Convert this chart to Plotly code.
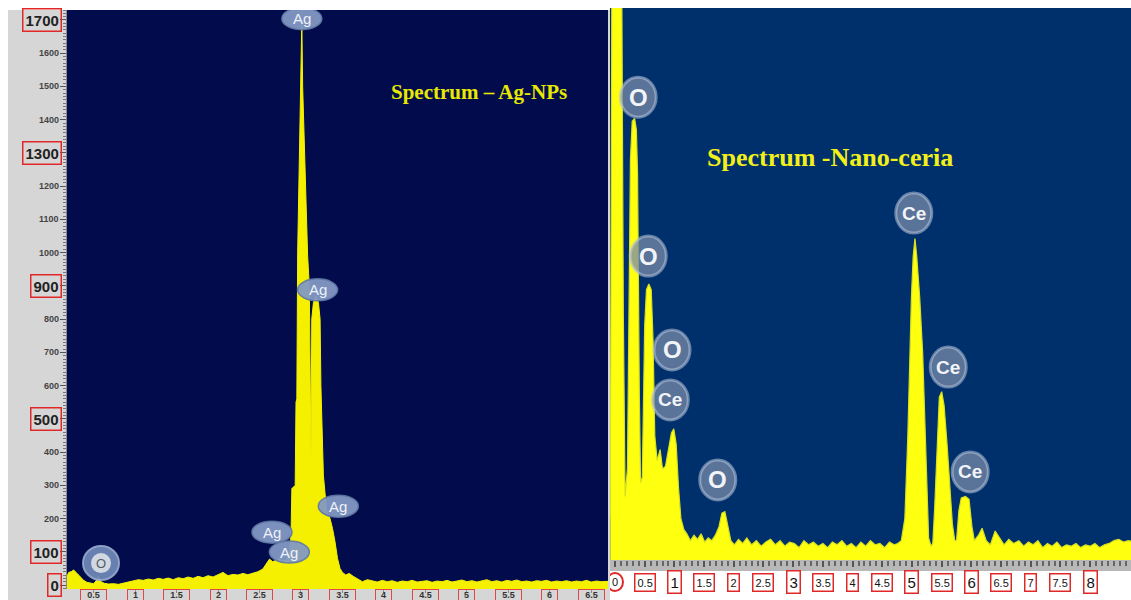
import plotly.graph_objects as go

W, H = 1131, 600

# ---------------- Ag-NPs spectrum (energy in keV, counts) ----------------
ag_energy = [0.17, 0.20, 0.23, 0.26, 0.29, 0.32, 0.35, 0.38, 0.42, 0.46, 0.50, 0.53, 0.56, 0.59,
             0.63, 0.68, 0.74, 0.80, 0.86, 0.92, 0.98, 1.04, 1.10, 1.16, 1.22, 1.28, 1.34, 1.40,
             1.46, 1.52, 1.58, 1.64, 1.70, 1.76, 1.82, 1.88, 1.94, 2.00, 2.06, 2.12, 2.18, 2.24,
             2.30, 2.36, 2.42, 2.48, 2.54, 2.58, 2.62, 2.66, 2.70, 2.74, 2.78, 2.82, 2.86, 2.88,
             2.89, 2.93, 2.94, 2.95, 2.96, 2.98, 2.99, 3.01, 3.02, 3.04, 3.06, 3.08, 3.10, 3.12,
             3.13, 3.15, 3.18, 3.21, 3.23, 3.24, 3.27, 3.31, 3.35, 3.38, 3.41, 3.44, 3.47, 3.50,
             3.54, 3.58, 3.63, 3.68, 3.74, 3.80,
             3.86, 3.92, 3.98, 4.04, 4.10, 4.16, 4.22, 4.28, 4.34, 4.40, 4.46, 4.52, 4.58, 4.64,
             4.70, 4.76, 4.82, 4.88, 4.94, 5.00, 5.06, 5.12, 5.18, 5.24, 5.30, 5.36, 5.42, 5.48,
             5.54, 5.60, 5.66, 5.72, 5.78, 5.84, 5.90, 5.96, 6.02, 6.08, 6.14, 6.20, 6.26, 6.32,
             6.38, 6.44, 6.50, 6.56, 6.62, 6.70]
ag_counts = [20, 38, 40, 45, 38, 30, 24, 14, 8, 5, 4, 12, 26, 10,
             5, 3, 4, 2, 5, 8, 12, 16, 14, 18, 15, 20, 17, 21,
             16, 22, 19, 24, 20, 26, 22, 28, 24, 30, 38, 28, 32, 30,
             35, 31, 36, 40, 48, 62, 78, 70, 74, 80, 72, 76, 95, 150,
             290, 300, 550, 560, 1000, 1250, 1480, 1700, 1500, 1300, 1100, 990, 900, 380,
             800, 850, 870, 850, 800, 600, 330, 220, 200, 170, 130, 80, 50, 38,
             30, 35, 26, 18, 10, 16,
             12, 9, 14, 10, 13, 8, 12, 10, 14, 9, 11, 13, 8, 12,
             10, 14, 9, 12, 15, 10, 13, 9, 12, 16, 10, 13, 9, 14,
             11, 15, 10, 12, 9, 13, 11, 14, 9, 12, 10, 13, 9, 12,
             10, 14, 9, 12, 10, 11]

ag_ytick_values = list(range(0, 1800, 100))
ag_ytick_boxed = [0, 100, 500, 900, 1300, 1700]
ag_xtick_values = [0.5, 1, 1.5, 2, 2.5, 3, 3.5, 4, 4.5, 5, 5.5, 6, 6.5]
ag_xtick_labels = ["0.5", "1", "1.5", "2", "2.5", "3", "3.5", "4", "4.5", "5", "5.5", "6", "6.5"]

ag_peak_names = ["Ag", "Ag", "Ag", "Ag", "Ag", "O"]
ag_peak_energy = [3.01, 3.20, 3.45, 2.65, 2.86, 0.59]
ag_peak_counts = [1704, 888, 237, 159, 99, 66]

# ---------------- Nano-ceria spectrum (energy in keV, counts) ----------------
ce_energy = [-0.08, -0.05, 0.11, 0.14, 0.17, 0.21, 0.24, 0.26, 0.29, 0.33, 0.36, 0.38, 0.41,
             0.43, 0.46, 0.50, 0.53, 0.57, 0.61, 0.64, 0.67, 0.71, 0.76, 0.80, 0.85, 0.90,
             0.95, 0.99, 1.03, 1.07,
             1.11, 1.16, 1.21, 1.27, 1.33, 1.39, 1.45, 1.51, 1.57, 1.63, 1.69, 1.75, 1.80,
             1.85, 1.90, 1.95, 2.01, 2.08, 2.15, 2.22, 2.30, 2.38, 2.46, 2.54, 2.62, 2.70,
             2.78, 2.86, 2.94, 3.02, 3.10, 3.18, 3.26, 3.34, 3.42, 3.50, 3.58, 3.66, 3.74,
             3.82, 3.90, 3.98, 4.06, 4.14, 4.22, 4.30, 4.38, 4.46, 4.54, 4.62, 4.70, 4.76,
             4.82, 4.88, 4.93, 4.96, 4.99, 5.02, 5.05, 5.08, 5.13, 5.18, 5.22, 5.25, 5.28,
             5.32, 5.35, 5.38, 5.42, 5.46, 5.50, 5.54, 5.59, 5.64, 5.68, 5.72, 5.75, 5.79,
             5.83, 5.90, 5.96, 6.01, 6.05, 6.12, 6.18, 6.25, 6.32, 6.40,
             6.47, 6.55, 6.63, 6.71, 6.80, 6.88, 6.96, 7.04, 7.12, 7.20, 7.28, 7.36, 7.44,
             7.52, 7.60, 7.68, 7.76, 7.84, 7.92, 8.00, 8.08, 8.16, 8.24, 8.32, 8.40, 8.48,
             8.56, 8.64, 8.70]
ce_counts = [150, 2300, 2300, 900, 230, 330, 1000, 1450, 1590, 1600, 1560, 1400, 600,
             280, 300, 850, 980, 1000, 980, 800, 450, 360, 400, 330, 340, 400,
             460, 475, 420, 260,
             150, 110, 95, 70, 90, 75, 95, 65, 80, 70, 90, 120, 170,
             175, 120, 70, 55, 75, 60, 80, 55, 70, 50, 65, 75, 55,
             70, 50, 65, 60, 45, 70, 55, 65, 50, 60, 45, 65, 55,
             70, 50, 60, 45, 65, 50, 70, 55, 60, 45, 65, 55, 60,
             70, 150, 450, 750, 950, 1100, 1165, 1100, 950, 750, 500, 250, 80,
             50, 60, 180, 420, 590, 610, 560, 420, 250, 130, 70, 70, 180,
             225, 230, 220, 120, 70, 90, 115, 70, 55, 105,
             80, 55, 75, 60, 70, 50, 65, 55, 70, 45, 60, 50, 65,
             45, 55, 50, 60, 45, 55, 50, 60, 45, 55, 60, 70, 75,
             65, 70, 68]

ce_xtick_values = [0, 0.5, 1, 1.5, 2, 2.5, 3, 3.5, 4, 4.5, 5, 5.5, 6, 6.5, 7, 7.5, 8]
ce_xtick_labels = ["0", "0.5", "1", "1.5", "2", "2.5", "3", "3.5", "4", "4.5", "5", "5.5",
                   "6", "6.5", "7", "7.5", "8"]

ce_peak_names = ["O", "O", "O", "Ce", "O", "Ce", "Ce", "Ce"]
ce_peak_energy = [0.39, 0.56, 0.96, 0.93, 1.73, 5.03, 5.61, 5.98]
ce_peak_counts = [1677, 1101, 761, 580, 290, 1257, 699, 319]

YELLOW = "#f4f000"
SANS = "Liberation Sans"
SERIF = "Liberation Serif"


def px(p):
    return p / W


def py(p):
    return 1 - p / H


fig = go.Figure()

# Ag-NPs: baseline just under zero so the fill reaches the frame bottom
fig.add_trace(go.Scatter(x=[ag_energy[0], ag_energy[-1]], y=[-12, -12], mode="lines",
                         line=dict(width=0, color=YELLOW), xaxis="x", yaxis="y",
                         showlegend=False, hoverinfo="skip"))
fig.add_trace(go.Scatter(x=ag_energy, y=ag_counts, mode="lines", fill="tonexty",
                         fillcolor=YELLOW, line=dict(color=YELLOW, width=1),
                         xaxis="x", yaxis="y", showlegend=False))

# Nano-ceria
fig.add_trace(go.Scatter(x=ce_energy, y=ce_counts, mode="lines", fill="tozeroy",
                         fillcolor="#ffff10", line=dict(color="#d8e020", width=1.2),
                         xaxis="x2", yaxis="y2", showlegend=False))

shapes = [
    # grey frame of the left instrument panel
    dict(type="rect", xref="paper", yref="paper", x0=px(8), x1=px(610), y0=0, y1=py(10),
         fillcolor="#d6d6d6", line=dict(width=0), layer="below"),
    dict(type="rect", xref="x domain", yref="y domain", x0=0, x1=1, y0=0, y1=1,
         fillcolor="#020c4c", line=dict(width=0), layer="below"),
    dict(type="rect", xref="x2 domain", yref="y2 domain", x0=0, x1=1, y0=0, y1=1,
         fillcolor="#00306c", line=dict(width=0), layer="below"),
    # tick strip under the right spectrum
    dict(type="rect", xref="paper", yref="paper", x0=px(610), x1=1, y0=py(571), y1=py(560),
         fillcolor="#b8b8b8", line=dict(width=0), layer="below"),
]

annotations = []

# left y-axis labels
for v in ag_ytick_values:
    if v in ag_ytick_boxed:
        annotations.append(dict(xref="paper", yref="y", x=px(62), y=v, xanchor="right",
                                yanchor="middle", text=f"<b>{v}</b>", showarrow=False,
                                font=dict(family=SANS, size=15, color="#222222"),
                                bordercolor="#e02828", borderwidth=1.5, borderpad=2))
    else:
        annotations.append(dict(xref="paper", yref="y", x=px(61), y=v, xanchor="right",
                                yanchor="middle", text=f"<b>{v}</b>", showarrow=False,
                                font=dict(family=SANS, size=9, color="#444444")))

# left x-axis labels
for v, t in zip(ag_xtick_values, ag_xtick_labels):
    annotations.append(dict(xref="x", yref="paper", x=v, y=py(589), xanchor="center",
                            yanchor="top", text=f"<b>{t}</b>", showarrow=False,
                            font=dict(family=SANS, size=9, color="#333333"),
                            bordercolor="#e04848", borderwidth=1, borderpad=0,
                            width=len(t) * 5 + 10))

# right x-axis labels
for v, t in zip(ce_xtick_values, ce_xtick_labels):
    big = t in ("1", "3", "5", "6", "8")
    box = dict(bordercolor="#e02828", borderwidth=1.5, borderpad=2,
               bgcolor="white") if t != "0" else {}
    annotations.append(dict(xref="x2", yref="paper", x=v, y=py(582), xanchor="center",
                            yanchor="middle", text=t, showarrow=False,
                            font=dict(family=SANS, size=15 if big else 11, color="#111111"),
                            **box))
shapes.append(dict(type="circle", xref="x2", yref="paper", xsizemode="pixel",
                   ysizemode="pixel", xanchor=0, yanchor=py(582), x0=-8, x1=8, y0=-9, y1=9,
                   line=dict(color="#e02828", width=2)))

# element markers on the Ag-NPs spectrum
for name, e, c in zip(ag_peak_names, ag_peak_energy, ag_peak_counts):
    if name == "O":
        shapes.append(dict(type="circle", xref="x", yref="y", xsizemode="pixel",
                           ysizemode="pixel", xanchor=e, yanchor=c, x0=-18, x1=18, y0=-17,
                           y1=17, fillcolor="rgba(110,135,180,0.95)",
                           line=dict(color="rgba(150,170,205,0.9)", width=2)))
        shapes.append(dict(type="circle", xref="x", yref="y", xsizemode="pixel",
                           ysizemode="pixel", xanchor=e, yanchor=c, x0=-10, x1=10, y0=-10,
                           y1=10, fillcolor="rgba(215,220,228,0.95)", line=dict(width=0)))
        annotations.append(dict(xref="x", yref="y", x=e, y=c, text="O", showarrow=False,
                                font=dict(family=SANS, size=13, color="#555a66")))
    else:
        shapes.append(dict(type="circle", xref="x", yref="y", xsizemode="pixel",
                           ysizemode="pixel", xanchor=e, yanchor=c, x0=-20, x1=20, y0=-11,
                           y1=11, fillcolor="rgba(130,152,195,0.95)",
                           line=dict(color="rgba(95,120,165,0.9)", width=1.5)))
        annotations.append(dict(xref="x", yref="y", x=e, y=c, text="Ag", showarrow=False,
                                font=dict(family=SANS, size=15, color="#eef2f8")))

# element markers on the Nano-ceria spectrum
for name, e, c in zip(ce_peak_names, ce_peak_energy, ce_peak_counts):
    shapes.append(dict(type="circle", xref="x2", yref="y2", xsizemode="pixel",
                       ysizemode="pixel", xanchor=e, yanchor=c, x0=-18, x1=18, y0=-20, y1=20,
                       fillcolor="rgba(120,138,168,0.75)",
                       line=dict(color="rgba(185,198,220,0.55)", width=3)))
    annotations.append(dict(xref="x2", yref="y2", x=e, y=c, text=f"<b>{name}</b>",
                            showarrow=False,
                            font=dict(family=SANS, size=24 if name == "O" else 19,
                                      color="#f2f4f8")))

# panel titles
annotations.append(dict(xref="paper", yref="paper", x=px(479), y=py(92), text="Spectrum – Ag-NPs",
                        showarrow=False, xanchor="center", yanchor="middle",
                        font=dict(family=SERIF, size=21, color="#e8e800", weight="bold")))
annotations.append(dict(xref="paper", yref="paper", x=px(830), y=py(158),
                        text="Spectrum -Nano-ceria", showarrow=False, xanchor="center",
                        yanchor="middle",
                        font=dict(family=SERIF, size=26, color="#f2f018", weight="bold")))

fig.update_layout(
    width=W, height=H, margin=dict(l=0, r=0, t=0, b=0),
    paper_bgcolor="white", plot_bgcolor="rgba(0,0,0,0)",
    showlegend=False,
    xaxis=dict(domain=[px(67), px(608)], range=[0.18, 6.70], anchor="y",
               showgrid=False, zeroline=False, showline=False, showticklabels=False,
               tickvals=ag_xtick_values, ticks="outside", ticklen=3, tickcolor="#888888"),
    yaxis=dict(domain=[py(589), py(10)], range=[-12, 1730], anchor="x",
               showgrid=False, zeroline=False, showline=True, linecolor="#888888",
               showticklabels=False, tickvals=ag_ytick_values, ticks="outside",
               ticklen=6, tickcolor="#555555",
               minor=dict(dtick=10, ticks="outside", ticklen=3, tickcolor="#777777")),
    xaxis2=dict(domain=[px(610), 1], range=[-0.084, 8.687], anchor="y2",
                showgrid=False, zeroline=False, showline=False, showticklabels=False,
                tickvals=ce_xtick_values, ticks="outside", ticklen=6, tickwidth=2,
                tickcolor="#555555",
                minor=dict(dtick=0.1, ticks="outside", ticklen=5, tickwidth=2,
                           tickcolor="#666666")),
    yaxis2=dict(domain=[py(560), py(8)], range=[0, 2000], anchor="x2", visible=False),
    shapes=shapes,
    annotations=annotations,
)

fig.write_html("out.html")
